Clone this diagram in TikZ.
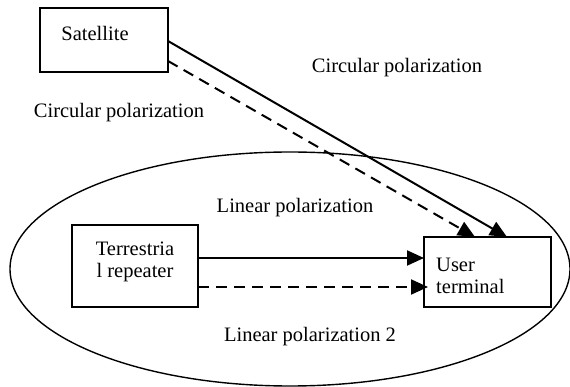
\documentclass[tikz,border=0pt]{standalone}
\usepackage{fontspec}
\setmainfont{Liberation Serif}
\usetikzlibrary{arrows.meta}
\begin{document}
\begin{tikzpicture}[x=1pt,y=-1pt,
  box/.style={draw,line width=1.5pt,inner sep=0pt},
  lbl/.style={font=\fontsize{20.5}{24}\selectfont,inner sep=0pt},
  link/.style={line width=2pt,-{Triangle[length=17pt,width=15pt]}},
  dlink/.style={link,dash pattern=on 11pt off 7pt}]
\useasboundingbox (0,0) rectangle (570,387);
\draw[line width=1.4pt] (290,269) ellipse [x radius=280, y radius=117];
\node[box,minimum width=128pt,minimum height=64pt] (sat) at (104,40) {};
\node[lbl] at (95,33) {Satellite};
\node[box,minimum width=126pt,minimum height=82pt] (ter) at (135,266) {};
\node[lbl,align=center] at (135,262) {Terrestria\\[-2pt]l repeater};
\node[box,minimum width=127pt,minimum height=70pt] (ut) at (487.5,272) {};
\node[lbl,align=left,anchor=west] at (436,276) {User\\[-2pt]terminal};
\coordinate (s1) at (168,41);
\coordinate (s2) at (168,61);
\coordinate (u1) at (507,237);
\coordinate (u2) at (475,237);
\coordinate (t1) at (198,258);
\coordinate (t2) at (198,287);
\coordinate (v1) at (424,258);
\coordinate (v2) at (428,287);
\draw[link] (s1) -- (u1);
\draw[dlink] (s2) -- (u2);
\draw[link] (t1) -- (v1);
\draw[dlink] (t2) -- (v2);
\node[lbl] at (397,68) {Circular polarization};
\node[lbl] at (119,113) {Circular polarization};
\node[lbl] at (295,208) {Linear polarization};
\node[lbl] at (310,337) {Linear polarization 2};
\end{tikzpicture}
\end{document}
